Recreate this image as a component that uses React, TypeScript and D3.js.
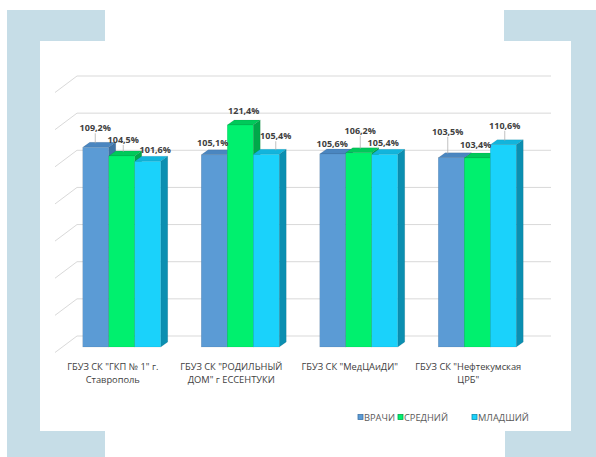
import React from "react";
import * as d3 from "d3";

const categories = [
  ['ГБУЗ СК "ГКП № 1" г.', "Ставрополь"],
  ['ГБУЗ СК "РОДИЛЬНЫЙ', 'ДОМ" г ЕССЕНТУКИ'],
  ['ГБУЗ СК "МедЦАиДИ"'],
  ['ГБУЗ СК "Нефтекумская', 'ЦРБ"'],
];
const seriesNames = ["ВРАЧИ", "СРЕДНИЙ", "МЛАДШИЙ"];
const vrachi = [109.2, 105.1, 105.6, 103.5];
const sredniy = [104.5, 121.4, 106.2, 103.4];
const mladshiy = [101.6, 105.4, 105.4, 110.6];
const yTicks = [0, 20, 40, 60, 80, 100, 120, 140];

// label nudges (layout only)
const labelDx = [
  [-4, -5, -4, -7],
  [-2, 0, -2, -5],
  [4, 6, -5, -2],
];
const labelDy = [
  [-11, -4, -2, -18],
  [-8, -6, -14, -5],
  [-3, -10, -3, -11],
];

const colors = [
  { front: "#5b9bd5", side: "#3f73a6", top: "#4a86c0" },
  { front: "#00f06e", side: "#00a84a", top: "#00c95a" },
  { front: "#1ad2fb", side: "#0b8fb1", top: "#12b4dc" },
];

export default function App() {
  const W = 596,
    H = 457;
  const data = [vrachi, sredniy, mladshiy];
  const catIdx = categories.map((_, i) => String(i));
  const x = d3.scaleBand().domain(catIdx).range([62.5, 536.5]).padding(0);
  const xs = d3.scaleBand().domain(seriesNames).range([-39, 39]).padding(0);
  const yFront = d3.scaleLinear().domain([0, 140]).range([347, 91]);
  const yBack = d3.scaleLinear().domain([0, 140]).range([336, 76]);
  const dx = 7,
    dy = -5;
  const font = "'Open Sans', 'Liberation Sans', sans-serif";

  return (
    <svg width={W} height={H} style={{ display: "block", position: "absolute", left: 0, top: 0 }} fontFamily={font}>
      <rect x={0} y={0} width={W} height={H} fill="#ffffff" />
      {/* frame corners */}
      <g fill="#c6dde7">
        <rect x={7} y={10} width={98} height={31} />
        <rect x={7} y={10} width={33} height={447} />
        <rect x={7} y={431} width={98} height={26} />
        <rect x={504} y={10} width={92} height={31} />
        <rect x={571} y={10} width={25} height={447} />
        <rect x={505} y={431} width={91} height={26} />
      </g>
      {/* gridlines */}
      <g stroke="#d9d9d9" strokeWidth={1} fill="none">
        {yTicks.map((t) => (
          <path key={t} d={`M55,${yBack(t) + 16.5}L77,${yBack(t)}L551,${yBack(t)}`} />
        ))}
      </g>
      {/* bars */}
      {categories.map((_, ci) =>
        seriesNames.map((s, si) => {
          const v = data[si][ci];
          const x0 = (x(String(ci)) as number) + x.bandwidth() / 2 + (xs(s) as number);
          const w = xs.bandwidth();
          const yt = yFront(v);
          const yb = yFront(0);
          const c = colors[si];
          return (
            <g key={`${ci}-${si}`} stroke="rgba(0,0,0,0.15)" strokeWidth={0.5}>
              <path d={`M${x0 + w},${yt}L${x0 + w + dx},${yt + dy}L${x0 + w + dx},${yb + dy}L${x0 + w},${yb}Z`} fill={c.side} />
              <path d={`M${x0},${yt}L${x0 + dx},${yt + dy}L${x0 + w + dx},${yt + dy}L${x0 + w},${yt}Z`} fill={c.top} />
              <rect x={x0} y={yt} width={w} height={yb - yt} fill={c.front} />
            </g>
          );
        })
      )}
      {/* data labels */}
      {categories.map((_, ci) =>
        seriesNames.map((s, si) => {
          const v = data[si][ci];
          const x0 = (x(String(ci)) as number) + x.bandwidth() / 2 + (xs(s) as number);
          const cx = x0 + xs.bandwidth() / 2 + dx / 2;
          const top = yFront(v) + dy;
          const lx = cx + labelDx[si][ci];
          const ly = top + labelDy[si][ci];
          return (
            <g key={`l${ci}-${si}`}>
              {labelDy[si][ci] < -6 && (
                <line x1={lx} x2={lx} y1={ly + 2} y2={top + 1} stroke="#a6a6a6" strokeWidth={0.7} />
              )}
              <text x={lx} y={ly} textAnchor="middle" fontSize={9} fontWeight="bold" fill="#404040">
                {v.toFixed(1).replace(".", ",")}%
              </text>
            </g>
          );
        })
      )}
      {/* category labels */}
      {categories.map((lines, ci) => {
        const cx = (x(String(ci)) as number) + x.bandwidth() / 2 - 9;
        return (
          <text key={`c${ci}`} textAnchor="middle" fontSize={9.3} fill="#404040">
            {lines.map((ln, li) => (
              <tspan key={li} x={cx} y={370 + li * 12.5}>
                {ln}
              </tspan>
            ))}
          </text>
        );
      })}
      {/* legend */}
      {seriesNames.map((s, si) => {
        const lx = [358, 398, 472][si];
        return (
          <g key={`lg${si}`}>
            <rect x={lx} y={414.5} width={5} height={5} fill={colors[si].front} stroke={colors[si].side} strokeWidth={0.8} />
            <text x={lx + 6} y={420.5} fontSize={9.3} fill="#595959">
              {s}
            </text>
          </g>
        );
      })}
    </svg>
  );
}
